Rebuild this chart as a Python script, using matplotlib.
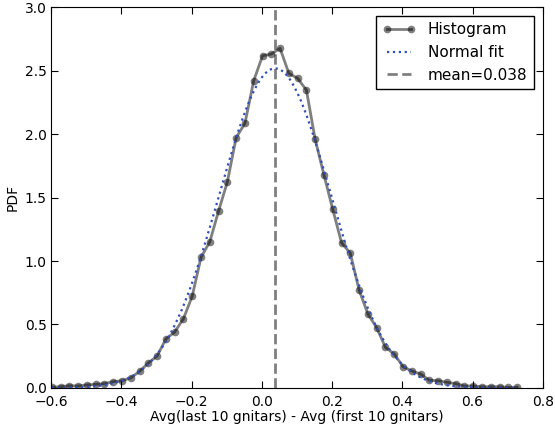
import numpy as np
import matplotlib
matplotlib.use('Agg')
import matplotlib.pyplot as plt

# bin centres of the histogram
bin_centers = [
    -0.598, -0.573, -0.548, -0.523, -0.498, -0.473, -0.448, -0.423, -0.398, -0.373,
    -0.348, -0.323, -0.298, -0.273, -0.248, -0.223, -0.198, -0.173, -0.148, -0.123,
    -0.098, -0.073, -0.048, -0.023, 0.002, 0.027, 0.052, 0.077, 0.102, 0.127,
    0.152, 0.177, 0.202, 0.227, 0.252, 0.277, 0.302, 0.327, 0.352, 0.377,
    0.402, 0.427, 0.452, 0.477, 0.502, 0.527, 0.552, 0.577, 0.602, 0.627,
    0.652, 0.677, 0.702, 0.727,
]

# density in each bin
pdf_values = [
    0.006, 0.010, 0.018, 0.016, 0.024, 0.029, 0.034, 0.050, 0.057, 0.079,
    0.131, 0.197, 0.252, 0.386, 0.441, 0.546, 0.724, 1.029, 1.152, 1.394,
    1.624, 1.972, 2.084, 2.420, 2.616, 2.630, 2.675, 2.478, 2.439, 2.346,
    1.957, 1.677, 1.407, 1.144, 1.061, 0.772, 0.583, 0.475, 0.320, 0.268,
    0.168, 0.134, 0.110, 0.061, 0.057, 0.045, 0.034, 0.016, 0.016, 0.010,
    0.010, 0.010, 0.004, 0.006,
]

# fitted normal parameters
fit_mean = 0.038
fit_std = 0.1585

x_fit = np.linspace(bin_centers[0], bin_centers[-1], 300)
y_fit = np.exp(-0.5 * ((x_fit - fit_mean) / fit_std) ** 2) / (fit_std * np.sqrt(2 * np.pi))

plt.rcParams['font.size'] = 10

fig = plt.figure(figsize=(5.55, 4.28), dpi=100)
ax = fig.add_axes([0.092, 0.0935, 0.886, 0.89])

ax.plot(bin_centers, pdf_values, '-o', color='k', alpha=0.5, lw=2,
        markersize=5.5, markeredgewidth=0, label='Histogram')
ax.plot(x_fit, y_fit, ':', color='#2f4fc0', lw=1.6, label='Normal fit')
ax.axvline(fit_mean, color='k', alpha=0.5, ls='--', lw=2,
           label='mean=%.3f' % fit_mean)

ax.set_xlim(-0.6, 0.8)
ax.set_ylim(0, 3.0)
ax.set_xticks(np.arange(-0.6, 0.81, 0.2))
ax.set_yticks(np.arange(0, 3.01, 0.5))
ax.tick_params(direction='in', top=True, right=True, length=5)
ax.tick_params(axis='x', pad=5)
ax.tick_params(axis='y', pad=3)

ax.set_xlabel('Avg(last 10 gnitars) - Avg (first 10 gnitars)', labelpad=1)
ax.set_ylabel('PDF')

leg = ax.legend(loc='upper right', numpoints=2, fancybox=False,
                framealpha=1, edgecolor='k', handlelength=2.2,
                fontsize=11, borderaxespad=0.6)
leg.get_frame().set_linewidth(1)

plt.savefig('out.png', dpi=100)
